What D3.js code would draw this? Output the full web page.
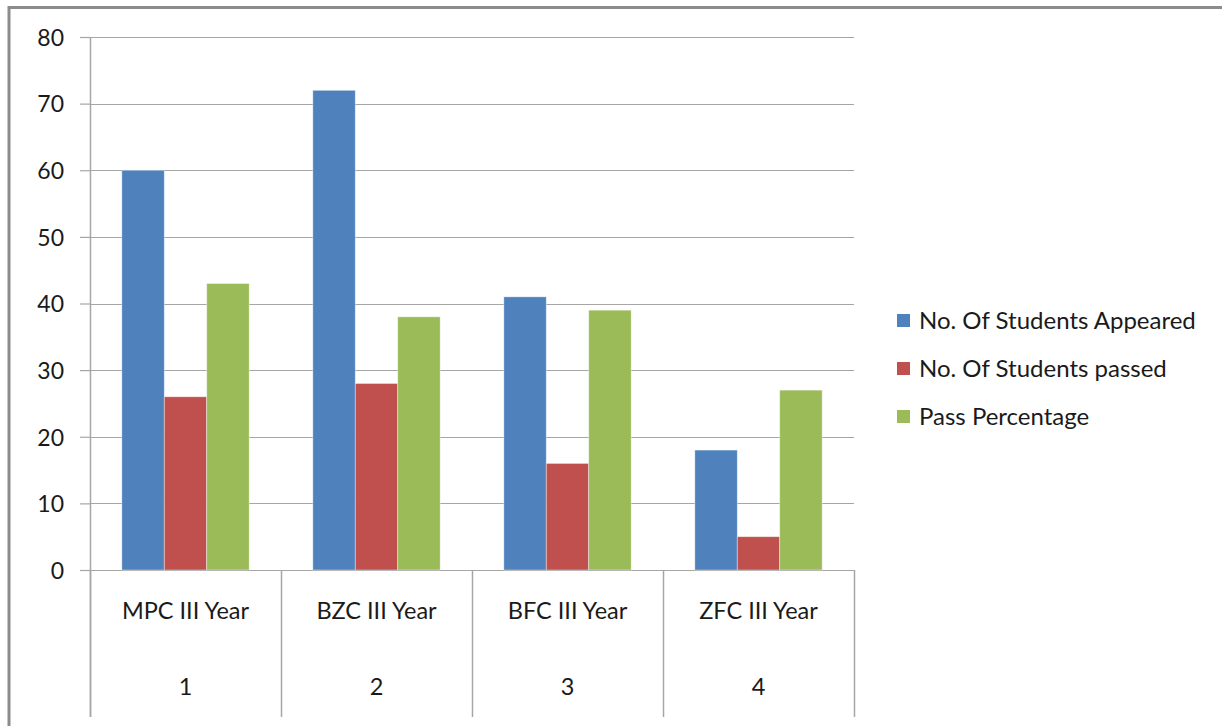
<!DOCTYPE html>
<html>
<head>
<meta charset="utf-8">
<script src="https://cdn.jsdelivr.net/npm/d3@7"></script>
<style>
  body { margin: 0; background: #fff; }
  svg { display: block; font-family: Lato, "Open Sans", sans-serif; }
</style>
</head>
<body>
<div class="chart"></div>
<script>
// data
var categories = ['MPC III Year', 'BZC III Year', 'BFC III Year', 'ZFC III Year'];
var groupLabels = ['1', '2', '3', '4'];
var seriesNames = ['No. Of Students Appeared', 'No. Of Students passed', 'Pass Percentage'];
var appeared = [60, 72, 41, 18];
var passed = [26, 28, 16, 5];
var passPct = [43, 38, 39, 27];
var yTicks = [0, 10, 20, 30, 40, 50, 60, 70, 80];

var colors = ['#4f81bd', '#c0504d', '#9bbb59'];
var series = [appeared, passed, passPct];

var W = 1222, H = 726;
var margin = { top: 37, left: 90 },
    width = 854 - 90,
    height = 570 - 37;

var svg = d3.select('.chart').append('svg')
    .attr('width', W)
    .attr('height', H);

// outer frame (only top and left visible)
svg.append('path')
    .attr('d', 'M9,' + H + 'V7.5H' + W)
    .attr('fill', 'none')
    .attr('stroke', '#8c8c8c')
    .attr('stroke-width', 3);

var g = svg.append('g')
    .attr('transform', 'translate(' + margin.left + ',' + margin.top + ')');

var x = d3.scaleBand().domain(categories).range([0, width]).paddingInner(0).paddingOuter(0);
var y = d3.scaleLinear().domain([0, 80]).range([height, 0]);

// gridlines
g.append('g')
    .selectAll('line')
    .data(yTicks)
    .enter()
    .append('line')
    .attr('x1', 0)
    .attr('x2', width)
    .attr('y1', function(d){ return Math.round(y(d)) + 0.5; })
    .attr('y2', function(d){ return Math.round(y(d)) + 0.5; })
    .attr('stroke', '#a6a6a6')
    .attr('stroke-width', 1.2);

// bars
var barW = x.bandwidth() / 4.5;
var offset = (x.bandwidth() - 3 * barW) / 2;
series.forEach(function(vals, si){
    g.append('g')
        .selectAll('rect')
        .data(vals)
        .enter()
        .append('rect')
        .attr('x', function(d, i){ return x(categories[i]) + offset + si * barW; })
        .attr('y', function(d){ return y(d); })
        .attr('width', barW)
        .attr('height', function(d){ return height - y(d); })
        .attr('fill', colors[si])
        .attr('stroke', 'rgba(255,255,255,0.5)')
        .attr('stroke-width', 0.8);
});

// y axis
var yAxis = d3.axisLeft(y).tickValues(yTicks).tickSize(10).tickPadding(16);
var ya = g.append('g').attr('class', 'y axis').call(yAxis);
ya.select('.domain').remove();
ya.attr('font-size', 23).attr('font-family', null);
ya.selectAll('.tick line').attr('stroke', '#a6a6a6').attr('stroke-width', 1.2);
ya.selectAll('.tick text').attr('dy', '0.36em').attr('fill', '#1a1a1a');

// y axis line
g.append('line')
    .attr('x1', 0.5).attr('x2', 0.5)
    .attr('y1', 0).attr('y2', 680)
    .attr('stroke', '#a6a6a6')
    .attr('stroke-width', 1.5);

// category axis (two levels)
var bounds = categories.map(function(c){ return x(c); }).concat([width]);
g.append('g')
    .selectAll('line')
    .data(bounds)
    .enter()
    .append('line')
    .attr('x1', function(d){ return Math.round(d) + 0.5; })
    .attr('x2', function(d){ return Math.round(d) + 0.5; })
    .attr('y1', height)
    .attr('y2', 680)
    .attr('stroke', '#a6a6a6')
    .attr('stroke-width', 1.5);

g.append('g')
    .selectAll('text')
    .data(categories)
    .enter()
    .append('text')
    .attr('x', function(d){ return x(d) + x.bandwidth() / 2; })
    .attr('y', 611 - margin.top)
    .attr('dy', '0.36em')
    .attr('text-anchor', 'middle')
    .attr('font-size', 23.5)
    .attr('fill', '#1a1a1a')
    .text(function(d){ return d; });

g.append('g')
    .selectAll('text')
    .data(groupLabels)
    .enter()
    .append('text')
    .attr('x', function(d, i){ return x(categories[i]) + x.bandwidth() / 2; })
    .attr('y', 687 - margin.top)
    .attr('dy', '0.36em')
    .attr('text-anchor', 'middle')
    .attr('font-size', 23.5)
    .attr('fill', '#1a1a1a')
    .text(function(d){ return d; });

// legend
var legend = svg.append('g')
    .attr('transform', 'translate(897,320)');
var items = legend.selectAll('g')
    .data(seriesNames)
    .enter()
    .append('g')
    .attr('transform', function(d, i){ return 'translate(0,' + (i * 48) + ')'; });
items.append('rect')
    .attr('x', 0).attr('y', -6)
    .attr('width', 13).attr('height', 13)
    .attr('fill', function(d, i){ return colors[i]; });
items.append('text')
    .attr('x', 22)
    .attr('dy', '0.36em')
    .attr('font-size', 24)
    .attr('fill', '#1a1a1a')
    .text(function(d){ return d; });
</script>
</body>
</html>
